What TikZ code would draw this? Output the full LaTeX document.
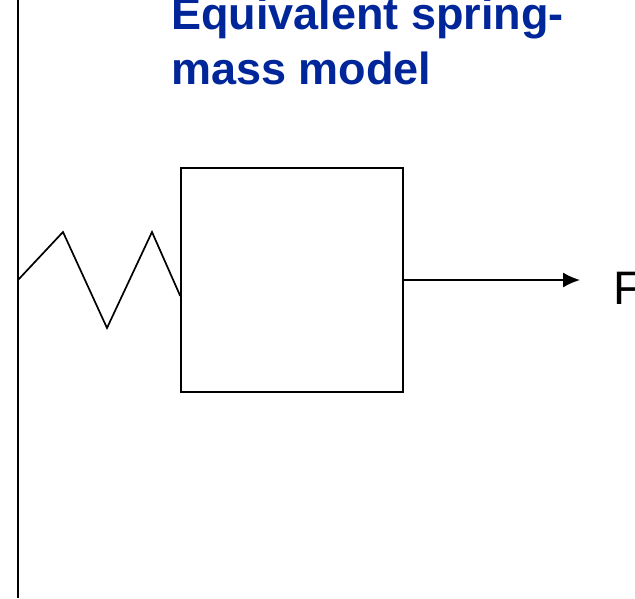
\documentclass[tikz,border=0pt]{standalone}
\usepackage{fontspec}
\setmainfont{Liberation Sans}
\usepackage{xcolor}
\usetikzlibrary{arrows.meta, positioning}
\definecolor{titleblue}{RGB}{0,38,153}
\tikzstyle{mass} = [draw, rectangle, minimum width=222pt, minimum height=224pt, inner sep=0pt, line width=1.5pt]
\tikzstyle{heading} = [anchor=base west, inner sep=0pt, align=left, font=\fontsize{45}{55}\selectfont\bfseries, text=titleblue]
\tikzstyle{forcelabel} = [anchor=base west, inner sep=0pt, font=\fontsize{47}{55}\selectfont]
\tikzstyle{arrow} = [line width=1.5pt,-{Latex[length=17pt,width=15pt]}]
\tikzstyle{springline} = [line width=1.7pt, line join=miter]
\begin{document}
\begin{tikzpicture}[x=1pt,y=-1pt]
    \useasboundingbox (0,0) rectangle (635,598);
    \node (title) [heading] at (171,84) {Equivalent spring-\\mass model};
    \node (box) [mass] at (292,280) {};
    \node (force) [forcelabel] at (613,304.5) {F};
    \coordinate (walltop) at (18,0);
    \coordinate (wallbottom) at (18,598);
    \coordinate (wallpoint) at (18,280);
    \coordinate (tip) at (580,280);
    \draw [line width=2.2pt] (walltop) -- (wallbottom);
    \draw [springline] (wallpoint) -- (63,232) -- (107,328) -- (152,232) -- (box.west |- 0,296);
    \draw [arrow] (box.east) -- (tip);
\end{tikzpicture}
\end{document}
